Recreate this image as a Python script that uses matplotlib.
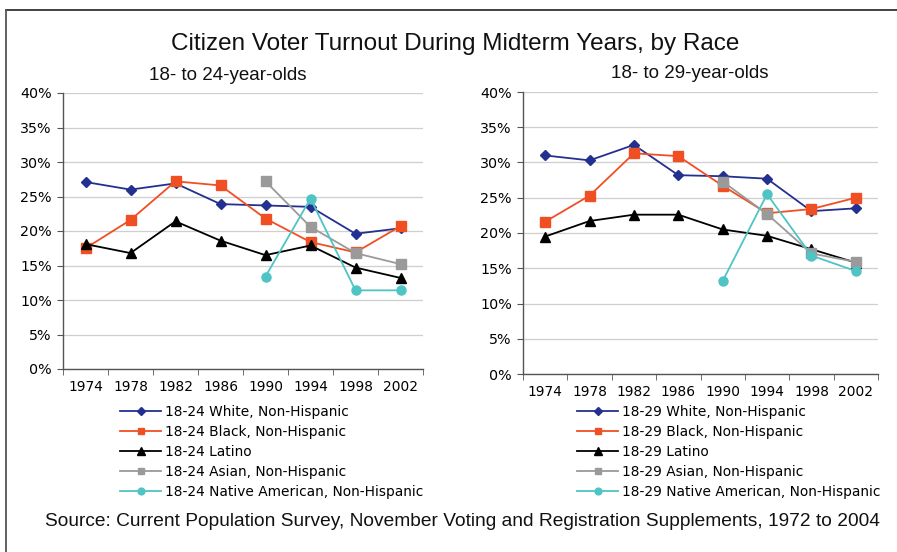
import matplotlib
matplotlib.use("Agg")
import matplotlib.pyplot as plt
from matplotlib.lines import Line2D

years = ["1974", "1978", "1982", "1986", "1990", "1994", "1998", "2002"]
yticks = [0, 5, 10, 15, 20, 25, 30, 35, 40]

# 18-24 year olds
w24 = [27.1, 26.0, 26.9, 23.9, 23.7, 23.5, 19.6, 20.4]
b24 = [17.5, 21.6, 27.2, 26.6, 21.8, 18.4, 16.9, 20.7]
l24 = [18.1, 16.8, 21.4, 18.6, 16.5, 17.9, 14.7, 13.2]
a24 = [None, None, None, None, 27.2, 20.6, 16.8, 15.2]
n24 = [None, None, None, None, 13.4, 24.7, 11.4, 11.4]

# 18-29 year olds
w29 = [31.0, 30.3, 32.5, 28.2, 28.05, 27.7, 23.1, 23.5]
b29 = [21.6, 25.3, 31.3, 30.9, 26.7, 22.8, 23.4, 25.0]
l29 = [19.5, 21.7, 22.6, 22.6, 20.5, 19.6, 17.7, 15.8]
a29 = [None, None, None, None, 27.3, 22.7, 17.1, 15.9]
n29 = [None, None, None, None, 13.2, 25.5, 16.8, 14.6]

names = ["White, Non-Hispanic", "Black, Non-Hispanic", "Latino",
         "Asian, Non-Hispanic", "Native American, Non-Hispanic"]
colors = ["#23308F", "#F04F23", "#000000", "#9A9A9A", "#4EC4C4"]
markers = ["D", "s", "^", "s", "o"]
msizes = [5.5, 6.5, 7, 6.5, 6.5]

W, H = 897, 552
fig = plt.figure(figsize=(W / 100, H / 100), dpi=100)
fig.patch.set_facecolor("white")

TITLE_FONT = ["Liberation Sans", "DejaVu Sans"]
TICK_FONT = ["DejaVu Sans"]


def px_axes(x0, y0, x1, y1):
    return fig.add_axes([x0 / W, 1 - y1 / H, (x1 - x0) / W, (y1 - y0) / H])


def draw(ax, series, prefix, legend_x, legend_y):
    xs = list(range(len(years)))
    handles = []
    for vals, name, c, m, ms in zip(series, names, colors, markers, msizes):
        px = [x for x, v in zip(xs, vals) if v is not None]
        py = [v for v in vals if v is not None]
        h, = ax.plot(px, py, color=c, marker=m, markersize=ms, linewidth=1.3,
                     label=f"{prefix} {name}", zorder=3)
        handles.append(h)
    ax.set_xlim(-0.5, len(years) - 0.5)
    ax.set_ylim(0, 40)
    ax.set_yticks(yticks)
    ax.set_yticklabels([f"{v}%" for v in yticks], fontsize=10.3, family=TICK_FONT)
    ax.set_xticks(xs)
    ax.set_xticklabels(years, fontsize=9.9, family=TICK_FONT)
    ax.tick_params(axis="x", which="major", length=0, pad=8)
    ax.set_xticks([x - 0.5 for x in range(len(years) + 1)], minor=True)
    ax.tick_params(axis="x", which="minor", length=4, direction="out", color="#555555")
    ax.tick_params(axis="y", length=4, direction="out", color="#555555", pad=4)
    ax.grid(axis="y", color="#CFCFCF", linewidth=0.9, zorder=0)
    ax.set_axisbelow(True)
    for s in ["top", "right"]:
        ax.spines[s].set_visible(False)
    for s in ["left", "bottom"]:
        ax.spines[s].set_color("#555555")
        ax.spines[s].set_linewidth(1.0)
    ax.set_facecolor("none")
    fig.legend(handles=handles, loc="upper left",
               bbox_to_anchor=(legend_x / W, 1 - legend_y / H),
               frameon=False, handlelength=3.0, handletextpad=0.25,
               labelspacing=0.43, borderpad=0, borderaxespad=0, markerscale=0.75,
               prop={"family": TICK_FONT, "size": 9.9})


ax1 = px_axes(63, 93, 423, 369)
draw(ax1, [w24, b24, l24, a24, n24], "18-24", 120, 405)
ax2 = px_axes(523, 92, 878, 374)
draw(ax2, [w29, b29, l29, a29, n29], "18-29", 577, 405)

fig.text(455 / W, 1 - 44 / H, "Citizen Voter Turnout During Midterm Years, by Race",
         ha="center", va="center", fontsize=17.5, family=TITLE_FONT, color="#111111")
fig.text(228 / W, 1 - 76 / H, "18- to 24-year-olds", ha="center", va="center",
         fontsize=13.5, family=TITLE_FONT, color="#111111")
fig.text(690 / W, 1 - 73 / H, "18- to 29-year-olds", ha="center", va="center",
         fontsize=13.5, family=TITLE_FONT, color="#111111")
fig.text(462 / W, 1 - 522 / H,
         "Source: Current Population Survey, November Voting and Registration Supplements, 1972 to 2004",
         ha="center", va="center", fontsize=13.8, family=TITLE_FONT, color="#111111")

# border frame (top and left)
fig.add_artist(Line2D([6 / W, 1], [1 - 10 / H, 1 - 10 / H], transform=fig.transFigure,
                      color="#333333", linewidth=1.3))
fig.add_artist(Line2D([6 / W, 6 / W], [0, 1 - 10 / H], transform=fig.transFigure,
                      color="#555555", linewidth=1.3))

fig.savefig("out.png", dpi=100)
